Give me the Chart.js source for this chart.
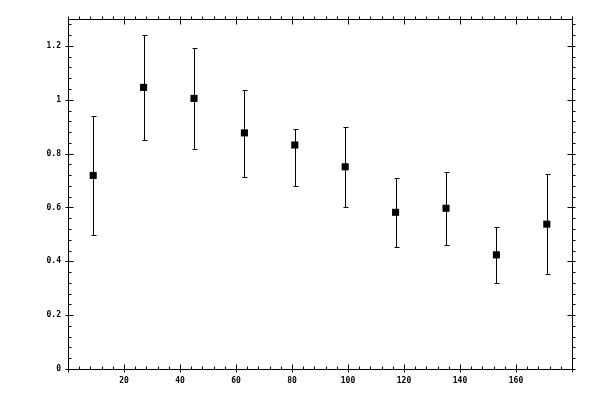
<!DOCTYPE html>
<html>
<head>
<meta charset="utf-8">
<script src="https://cdn.jsdelivr.net/npm/chart.js@4/dist/chart.umd.min.js"></script>
<style>
  html, body { margin: 0; padding: 0; background: #fff; }
  #wrap { width: 600px; height: 400px; }
</style>
</head>
<body>
<div id="wrap"><canvas id="plot"></canvas></div>
<script>
// values
const xValues = [9, 27, 45, 63, 81, 99, 117, 135, 153, 171];
const yValues = [0.719, 1.046, 1.005, 0.877, 0.832, 0.751, 0.582, 0.597, 0.424, 0.538];
const errLow  = [0.498, 0.851, 0.818, 0.712, 0.678, 0.600, 0.453, 0.460, 0.320, 0.354];
const errHigh = [0.938, 1.241, 1.193, 1.037, 0.890, 0.899, 0.711, 0.733, 0.527, 0.726];

const xTicks = [20, 40, 60, 80, 100, 120, 140, 160];
const yTicks = [0, 0.2, 0.4, 0.6, 0.8, 1, 1.2];

// frame + tick marks, drawn from the scales
const framePlugin = {
  id: 'frame',
  afterDraw(chart) {
    const { ctx, chartArea: a, scales } = chart;
    const xs = scales.x, ys = scales.y;
    ctx.save();
    ctx.strokeStyle = '#000';
    ctx.lineWidth = 1;
    ctx.beginPath();
    ctx.rect(Math.round(a.left) + 0.5, Math.round(a.top) + 0.5,
      Math.round(a.right - a.left), Math.round(a.bottom - a.top));
    ctx.stroke();

    const L = Math.round(a.left) + 0.5, R = Math.round(a.right) + 0.5;
    const T = Math.round(a.top) + 0.5, B = Math.round(a.bottom) + 0.5;
    ctx.beginPath();
    // x ticks every 4, major every 20
    for (let v = 0; v <= 180; v += 4) {
      const px = Math.round(xs.getPixelForValue(v)) + 0.5;
      const major = v % 20 === 0;
      if (major) {
        ctx.moveTo(px, B + 3); ctx.lineTo(px, B - 5);
        ctx.moveTo(px, T - 3); ctx.lineTo(px, T + 5);
      } else {
        ctx.moveTo(px, B); ctx.lineTo(px, B - 3);
        ctx.moveTo(px, T); ctx.lineTo(px, T - 3);
      }
    }
    // y ticks every 0.04, major every 0.2
    for (let i = 0; i <= 32; i++) {
      const v = i * 0.04;
      const py = Math.round(ys.getPixelForValue(v)) + 0.5;
      const major = i % 5 === 0;
      if (major) {
        ctx.moveTo(L - 3, py); ctx.lineTo(L + 5, py);
        ctx.moveTo(R + 3, py); ctx.lineTo(R - 5, py);
      } else {
        ctx.moveTo(L, py); ctx.lineTo(L + 3, py);
        ctx.moveTo(R, py); ctx.lineTo(R + 3, py);
      }
    }
    ctx.stroke();
    ctx.restore();
  }
};

// vertical error bars with small caps
const errorBarPlugin = {
  id: 'errorBars',
  beforeDatasetsDraw(chart) {
    const { ctx, scales } = chart;
    ctx.save();
    ctx.strokeStyle = '#000';
    ctx.lineWidth = 1;
    ctx.beginPath();
    xValues.forEach((x, i) => {
      const px = Math.round(scales.x.getPixelForValue(x)) + 0.5;
      const lo = Math.round(scales.y.getPixelForValue(errLow[i])) + 0.5;
      const hi = Math.round(scales.y.getPixelForValue(errHigh[i])) + 0.5;
      ctx.moveTo(px, lo); ctx.lineTo(px, hi);
      ctx.moveTo(px - 2, lo); ctx.lineTo(px + 3, lo);
      ctx.moveTo(px - 2, hi); ctx.lineTo(px + 3, hi);
    });
    ctx.stroke();
    ctx.restore();
  }
};

const tickFont = { family: 'DejaVu Sans Mono', size: 8, weight: 'bold' };

new Chart(document.getElementById('plot'), {
  type: 'scatter',
  data: {
    datasets: [{
      data: xValues.map((x, i) => ({ x: x, y: yValues[i] })),
      pointStyle: 'rect',
      pointRadius: 5,
      pointBackgroundColor: '#000',
      pointBorderColor: '#000',
      pointBorderWidth: 0,
      pointHoverRadius: 5
    }]
  },
  options: {
    responsive: true,
    maintainAspectRatio: false,
    animation: false,
    events: [],
    layout: { padding: { left: 0, right: 28, top: 19, bottom: 0 } },
    plugins: { legend: { display: false }, tooltip: { enabled: false } },
    scales: {
      x: {
        type: 'linear',
        min: 0,
        max: 180,
        grid: { display: false, drawTicks: false },
        border: { display: false },
        afterBuildTicks: s => { s.ticks = xTicks.map(v => ({ value: v })); },
        afterFit: s => { s.height = 31; },
        ticks: { color: '#000', font: tickFont, padding: 7, maxRotation: 0, autoSkip: false }
      },
      y: {
        type: 'linear',
        min: 0,
        max: 1.3,
        grid: { display: false, drawTicks: false },
        border: { display: false },
        afterBuildTicks: s => { s.ticks = yTicks.map(v => ({ value: v })); },
        afterFit: s => { s.width = 68; },
        ticks: {
          color: '#000', font: tickFont, padding: 7, autoSkip: false,
          callback: v => String(Math.round(v * 10) / 10)
        }
      }
    }
  },
  plugins: [errorBarPlugin, framePlugin]
});
</script>
</body>
</html>
